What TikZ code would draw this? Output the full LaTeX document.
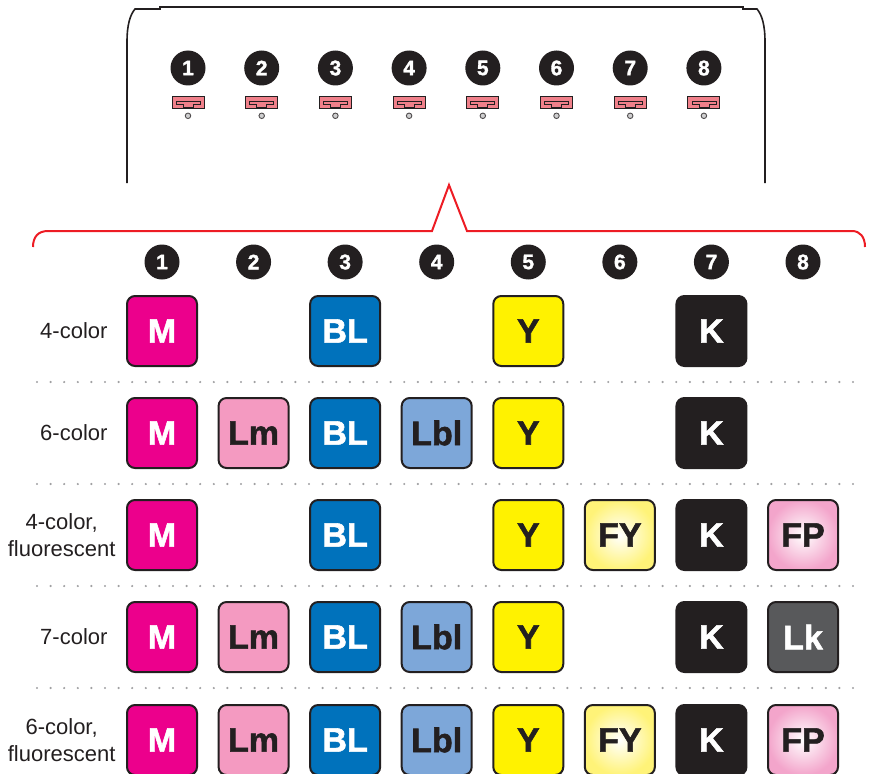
\documentclass[tikz,border=0pt]{standalone}
\usepackage{fontspec}
\setmainfont{Liberation Sans}
\newfontfamily\heavyfont[FakeBold=1.6]{Liberation Sans Bold}
\usepackage{xcolor}
\definecolor{inkdark}{RGB}{35, 31, 32}
\definecolor{inkM}{RGB}{236, 0, 140}
\definecolor{inkLm}{RGB}{244, 154, 193}
\definecolor{inkBL}{RGB}{0, 114, 188}
\definecolor{inkLbl}{RGB}{125, 167, 217}
\definecolor{inkY}{RGB}{255, 242, 0}
\definecolor{inkFY}{RGB}{255, 243, 120}
\definecolor{inkFP}{RGB}{243, 165, 203}
\definecolor{inkLk}{RGB}{88, 89, 91}
\definecolor{slotpink}{RGB}{240, 128, 138}
\definecolor{dotgrey}{RGB}{160, 160, 162}
\definecolor{bracketred}{RGB}{237, 28, 36}
\usepackage{tikz}
\usetikzlibrary{
  arrows.meta,
  positioning
}

\begin{document}
\begin{tikzpicture}[x=1pt, y=-1pt,
  numdot/.style={circle, fill=inkdark, minimum size=35pt, inner sep=0pt,
    text=white, font=\fontsize{21}{21}\selectfont\heavyfont},
  slot/.style={rectangle, draw=inkdark, line width=0.9pt, fill=slotpink,
    minimum width=32pt, minimum height=12pt, inner sep=0pt},
  slotdot/.style={circle, draw=inkdark!80, line width=0.9pt, fill=dotgrey!50,
    minimum size=5.5pt, inner sep=0pt},
  inkbox/.style={rectangle, rounded corners=8pt, draw=inkdark, line width=2pt,
    minimum size=70pt, inner sep=0pt, font=\fontsize{34}{34}\selectfont\heavyfont},
  rowlabel/.style={anchor=east, align=center, text=inkdark,
    font=\fontsize{22}{27}\selectfont},
  ink M/.style={fill=inkM, text=white},
  ink Lm/.style={fill=inkLm, text=inkdark},
  ink BL/.style={fill=inkBL, text=white},
  ink Lbl/.style={fill=inkLbl, text=inkdark},
  ink Y/.style={fill=inkY, text=inkdark},
  ink FY/.style={inner color=white, outer color=inkFY, text=inkdark},
  ink K/.style={fill=inkdark, text=white},
  ink FP/.style={inner color=white, outer color=inkFP, text=inkdark},
  ink Lk/.style={fill=inkLk, text=white}]

  \useasboundingbox (0,0) rectangle (869,773);

  % printer housing
  \draw[inkdark, line width=1.6pt] (127,183) -- (127,42)
    .. controls (127,25) and (130,15) .. (135,9) -- (160,9) -- (160,7)
    -- (743,7) -- (743,9) -- (757,9)
    .. controls (762,15) and (765,25) .. (765,42) -- (765,183);

  % ink slots in the housing
  \foreach \i in {1,...,8} {
    \pgfmathsetmacro\sx{188+(\i-1)*73.7}
    \node[numdot] (top\i) at (\sx,68) {\i};
    \node[slot, below=10pt of top\i] (slot\i) {};
    \draw[inkdark, line width=0.7pt, shift={(slot\i.center)}]
      (-12,-1) -- (12,-1) -- (12,2) -- (5,2) -- (5,5) -- (-5,5) -- (-5,2) -- (-12,2) -- cycle;
    \node[slotdot, below=4pt of slot\i] (pin\i) {};
  }

  % red bracket
  \draw[bracketred, line width=2pt, line join=miter] (33,247)
    .. controls (33,237) and (38,231) .. (48,231) -- (432,231) -- (449,185)
    -- (467,231) -- (852,231) .. controls (860,231) and (865,237) .. (865,247);

  % column numbers
  \foreach \c in {1,...,8} {
    \pgfmathsetmacro\cx{162+(\c-1)*91.57}
    \node[numdot] (col\c) at (\cx,262) {\c};
  }

  % dotted separators
  \foreach \dy in {382,484,586,688} {
    \draw[dotgrey, line width=2.4pt, line cap=round, dash pattern=on 0pt off 13.6pt]
      (37,\dy) -- (856,\dy);
  }

  % ink sets
  \foreach \ry/\lx/\rlab/\inks [count=\r] in {
    331/111/{4-color}/{1/M,3/BL,5/Y,7/K},
    433/111/{6-color}/{1/M,2/Lm,3/BL,4/Lbl,5/Y,7/K},
    535/119/{4-color,\\fluorescent}/{1/M,3/BL,5/Y,6/FY,7/K,8/FP},
    637/111/{7-color}/{1/M,2/Lm,3/BL,4/Lbl,5/Y,7/K,8/Lk},
    740/119/{6-color,\\fluorescent}/{1/M,2/Lm,3/BL,4/Lbl,5/Y,6/FY,7/K,8/FP}} {
    \node[rowlabel] (lab\r) at (\lx,\ry) {\rlab};
    \foreach \c/\k in \inks {
      \pgfmathsetmacro\cx{162+(\c-1)*91.57}
      \node[inkbox, ink \k] (box\r-\c) at (\cx,\ry) {\k};
    }
  }
\end{tikzpicture}
\end{document}
